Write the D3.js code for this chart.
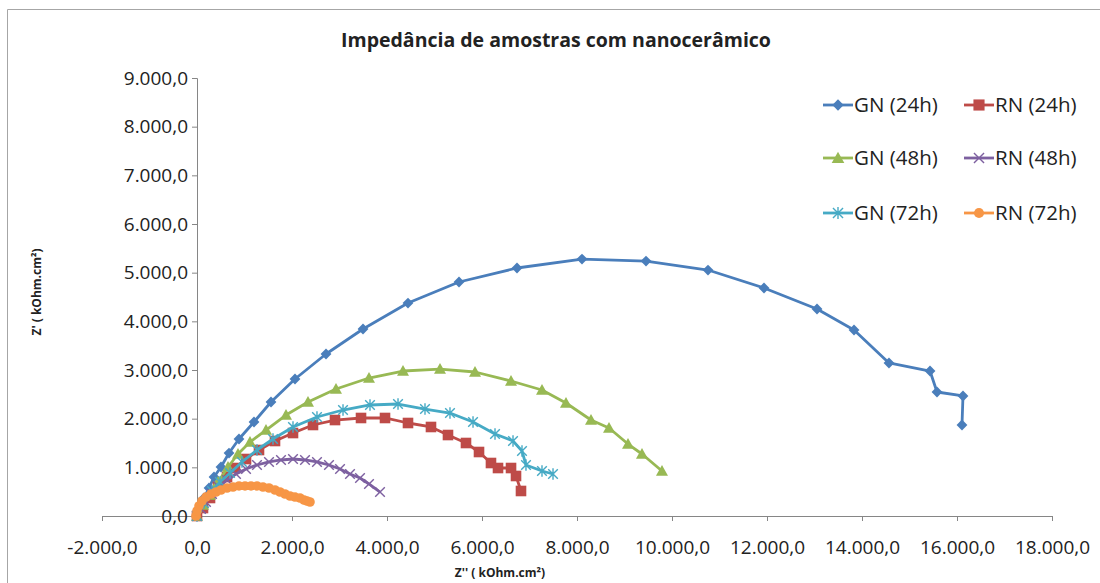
<!DOCTYPE html>
<html>
<head>
<meta charset="utf-8">
<script src="https://cdn.jsdelivr.net/npm/d3@7"></script>
<style>
  html, body { margin: 0; padding: 0; background: #fff; }
  svg { display: block; }
  text { font-family: "Open Sans", "Noto Sans", sans-serif; fill: #222; }
</style>
</head>
<body>
<svg id="chart" width="1100" height="583"></svg>
<script>
// Nyquist data: [Z'' (real), Z' (imag)] in kOhm.cm²
const gn24 = [[0,0],[63,164],[147,370],[253,575],[358,801],[505,1007],[674,1294],[884,1582],[1200,1931],[1558,2342],[2063,2815],[2716,3329],[3495,3842],[4442,4376],[5516,4808],[6737,5096],[8105,5280],[9453,5239],[10758,5054],[11937,4685],[13053,4253],[13832,3822],[14568,3144],[15432,2979],[15579,2548],[16126,2466],[16105,1870]];
const rn24 = [[0,0],[126,164],[274,370],[442,596],[632,801],[800,986],[1032,1171],[1305,1356],[1642,1541],[2021,1705],[2442,1870],[2905,1972],[3453,2014],[3958,2014],[4442,1911],[4926,1829],[5284,1664],[5663,1500],[5937,1315],[6189,1089],[6337,986],[6611,986],[6716,822],[6821,514]];
const gn48 = [[0,0],[126,226],[274,431],[442,699],[653,1007],[863,1274],[1116,1520],[1453,1767],[1874,2075],[2337,2342],[2926,2609],[3621,2835],[4337,2979],[5116,3020],[5853,2959],[6611,2774],[7263,2589],[7768,2322],[8295,1972],[8674,1808],[9074,1479],[9368,1274],[9789,925]];
const rn48 = [[0,0],[84,144],[189,288],[316,452],[463,596],[632,740],[821,863],[1032,966],[1263,1048],[1516,1110],[1768,1151],[2021,1171],[2274,1151],[2526,1110],[2779,1048],[3011,966],[3221,863],[3432,781],[3621,658],[3853,493]];
const gn72 = [[0,0],[147,267],[316,514],[484,699],[695,884],[947,1110],[1263,1356],[1600,1582],[2021,1829],[2526,2034],[3074,2178],[3642,2281],[4232,2301],[4800,2198],[5326,2116],[5811,1931],[6274,1685],[6653,1541],[6842,1336],[6926,1048],[7263,925],[7495,863]];
const rn72 = [[-21,0],[0,103],[42,206],[105,308],[189,390],[295,452],[400,493],[505,534],[632,575],[758,596],[884,617],[1011,617],[1137,617],[1263,617],[1389,596],[1516,575],[1642,534],[1747,493],[1853,452],[1958,411],[2063,390],[2168,370],[2253,329],[2316,308],[2379,288]];

const seriesNames = ["GN (24h)", "RN (24h)", "GN (48h)", "RN (48h)", "GN (72h)", "RN (72h)"];
const seriesData = [gn24, rn24, gn48, rn48, gn72, rn72];
const seriesColors = ["#4a7ebb", "#be4b48", "#98b954", "#7d60a0", "#46aac5", "#f79646"];
const seriesMarkers = ["diamond", "square", "triangle", "cross", "star", "circle"];

const xTicks = [-2000, 0, 2000, 4000, 6000, 8000, 10000, 12000, 14000, 16000, 18000];
const yTicks = [0, 1000, 2000, 3000, 4000, 5000, 6000, 7000, 8000, 9000];

const titleText = "Impedância de amostras com nanocerâmico";
const xTitle = "Z'' ( kOhm.cm²)";
const yTitle = "Z' ( kOhm.cm²)";

const svg = d3.select("#chart");

// chart frame (top and left edges visible)
svg.append("path")
  .attr("d", "M7.5,583 V9.5 H1100")
  .attr("fill", "none").attr("stroke", "#a6a6a6").attr("stroke-width", 1);

const x = d3.scaleLinear().domain([-2000, 18000]).range([102, 1052]);
const y = d3.scaleLinear().domain([0, 9000]).range([516, 78]);

// pt-BR number format: 9.000,0
const fmt = v => {
  const s = d3.format(",.1f")(v);
  return s.replace(/,/g, "#").replace(/\./g, ",").replace(/#/g, ".").replace("−", "-");
};

// x axis at y = 0
const xAxis = d3.axisBottom(x).tickValues(xTicks).tickSize(5).tickFormat(fmt);
const gx = svg.append("g").attr("transform", `translate(0,${y(0)})`).call(xAxis);
gx.select(".domain").attr("stroke", "#868686");
gx.selectAll(".tick line").attr("stroke", "#868686");
gx.selectAll(".tick text").attr("font-size", 19).attr("fill", "#222")
  .attr("font-family", "Open Sans").attr("dy", "1.6em");

// y axis at x = 0
const yAxis = d3.axisLeft(y).tickValues(yTicks).tickSize(5).tickFormat(fmt);
const gy = svg.append("g").attr("transform", `translate(${x(0)},0)`).call(yAxis);
gy.select(".domain").attr("stroke", "#868686");
gy.selectAll(".tick line").attr("stroke", "#868686");
gy.selectAll(".tick text").attr("font-size", 19).attr("fill", "#222")
  .attr("font-family", "Open Sans").attr("x", -9);

// title
svg.append("text").attr("x", 556).attr("y", 47).attr("text-anchor", "middle")
  .attr("font-size", 19.5).attr("font-weight", "bold").text(titleText);

// axis titles
svg.append("text").attr("x", 500).attr("y", 577).attr("text-anchor", "middle")
  .attr("font-size", 12).attr("font-weight", "bold").text(xTitle);
svg.append("text").attr("transform", "translate(41,292) rotate(-90)").attr("text-anchor", "middle")
  .attr("font-size", 12).attr("font-weight", "bold").text(yTitle);

// marker drawing
function drawMarker(g, type, color, cx, cy, s) {
  const sz = s || 1;
  if (type === "diamond") {
    const r = 5.4 * sz;
    g.append("path").attr("d", `M${cx},${cy - r}L${cx + r},${cy}L${cx},${cy + r}L${cx - r},${cy}Z`).attr("fill", color);
  } else if (type === "square") {
    const r = 5.3 * sz;
    g.append("rect").attr("x", cx - r).attr("y", cy - r).attr("width", 2 * r).attr("height", 2 * r).attr("fill", color);
  } else if (type === "triangle") {
    const r = 6 * sz;
    g.append("path").attr("d", `M${cx},${cy - r}L${cx + r},${cy + r * 0.8}L${cx - r},${cy + r * 0.8}Z`).attr("fill", color);
  } else if (type === "cross") {
    const r = 4.8 * sz;
    g.append("path").attr("d", `M${cx - r},${cy - r}L${cx + r},${cy + r}M${cx - r},${cy + r}L${cx + r},${cy - r}`)
      .attr("stroke", color).attr("stroke-width", 1.4).attr("fill", "none");
  } else if (type === "star") {
    const r = 4.8 * sz;
    g.append("path").attr("d", `M${cx - r},${cy - r}L${cx + r},${cy + r}M${cx - r},${cy + r}L${cx + r},${cy - r}M${cx},${cy - r - 1}L${cx},${cy + r + 1}`)
      .attr("stroke", color).attr("stroke-width", 1.4).attr("fill", "none");
  } else if (type === "circle") {
    g.append("circle").attr("cx", cx).attr("cy", cy).attr("r", 4.8 * sz).attr("fill", color);
  }
}

const line = d3.line().x(d => x(d[0])).y(d => y(d[1]));

// draw series, later ones on top
seriesData.forEach((data, i) => {
  const g = svg.append("g");
  g.append("path").datum(data).attr("d", line)
    .attr("fill", "none").attr("stroke", seriesColors[i]).attr("stroke-width", 2.8)
    .attr("stroke-linejoin", "round");
  data.forEach(d => drawMarker(g, seriesMarkers[i], seriesColors[i], x(d[0]), y(d[1])));
});

// legend: 2 columns x 3 rows
const legendCols = [823, 964];
const legendRows = [105, 158, 213];
seriesNames.forEach((name, i) => {
  const lx = legendCols[i % 2], ly = legendRows[Math.floor(i / 2)];
  const g = svg.append("g");
  g.append("line").attr("x1", lx).attr("x2", lx + 30).attr("y1", ly).attr("y2", ly)
    .attr("stroke", seriesColors[i]).attr("stroke-width", 2.8);
  drawMarker(g, seriesMarkers[i], seriesColors[i], lx + 15, ly, 1.05);
  g.append("text").attr("x", lx + 31).attr("y", ly).attr("dy", "0.36em")
    .attr("font-size", 20.5).text(name);
});
</script>
</body>
</html>
